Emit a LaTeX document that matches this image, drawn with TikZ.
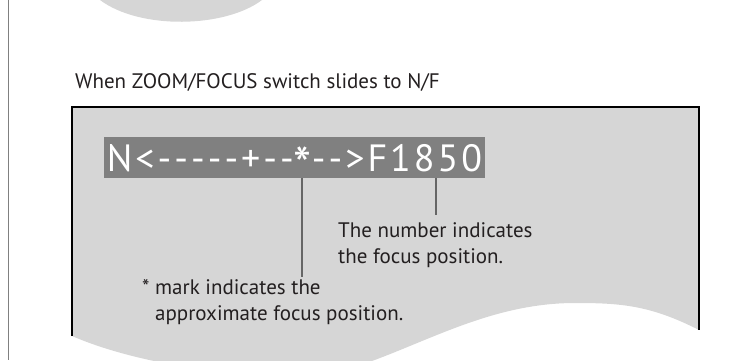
\documentclass[tikz,border=0pt]{standalone}
\usepackage{fontspec}
\setmainfont{PT Sans}
\newfontfamily\readoutfont[LetterSpace=8]{PT Sans}
\usepackage{tikz}
\usetikzlibrary{positioning}
\usepackage{xcolor}
\definecolor{panelgray}{RGB}{214,214,214}
\definecolor{readoutgray}{RGB}{128,128,128}
\definecolor{inkgray}{RGB}{35,31,32}
\tikzstyle{readout} = [rectangle, fill=readoutgray, text=white, inner sep=0pt,
    minimum width=381pt, minimum height=41pt, text height=27pt, text depth=0pt,
    font=\readoutfont\fontsize{38}{40}\selectfont]
\tikzstyle{note} = [inner sep=0pt, anchor=base west, align=left, text=inkgray,
    font=\fontsize{21}{26}\selectfont]
\tikzstyle{leader} = [draw, line width=1.4pt, color=gray!80!black]

\begin{document}
\begin{tikzpicture}[x=1pt, y=-1pt]
        \useasboundingbox (0,0) rectangle (754,360);
        % Background
        \draw [gray, line width=1pt] (8,0) -- (8,360);
        \fill [panelgray] (100,0) .. controls (140,30) and (225,28) .. (262,0) -- cycle;
        \fill [panelgray] (72,107) -- (699,107) -- (699,330)
            .. controls (650,305) and (620,303) .. (575,303)
            .. controls (500,303) and (440,335) .. (380,358)
            .. controls (300,390) and (150,370) .. (72,336) -- cycle;
        \draw [line width=1.6pt] (72,336) -- (72,107) -- (699,107) -- (699,330);

        % Nodes (base anchor sits on the last line)
        \node [note, font=\fontsize{21}{24}\selectfont] (title) at (75,88)
            {When ZOOM/FOCUS switch slides to N/F};
        \node [readout] (display) at (294.5,157.5)
            {N<{-}{-}{-}{-}{-}+{-}{-}\raisebox{-0.33em}{\scalebox{1.35}{*}}{-}{-}>F1850};
        \node [note] (numnote) at (338,263)
            {The number indicates\\the focus position.};
        \node [note] (marknote) at (142,320)
            {* mark indicates the\\\hphantom{*\ }approximate focus position.};

        % Lines
        \coordinate (star) at (302,178);
        \coordinate (digit) at (436,178);
        \path [leader] (star) -- (302,277);
        \path [leader] (digit) -- (436,215);
    \end{tikzpicture}
\end{document}
